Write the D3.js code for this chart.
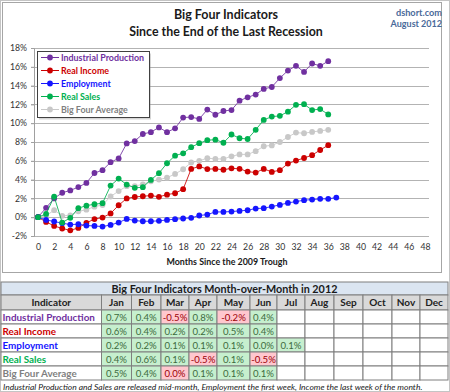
<!DOCTYPE html>
<html><head><meta charset="utf-8">
<script src="https://cdn.jsdelivr.net/npm/d3@7"></script>
<style>
html,body{margin:0;padding:0;background:#fff;}
svg{display:block;font-family:Lato,"Open Sans",sans-serif;}
</style></head>
<body>
<svg id="c" width="450" height="392"></svg>
<script>
// ---------- DATA ----------
const months = [0,1,2,3,4,5,6,7,8,9,10,11,12,13,14,15,16,17,18,19,20,21,22,23,24,25,26,27,28,29,30,31,32,33,34,35,36,37];
const xTickLabels = [0,2,4,6,8,10,12,14,16,18,20,22,24,26,28,30,32,34,36,38,40,42,44,46,48];
const yTickLabels = [-2,0,2,4,6,8,10,12,14,16,18];

const industrialProduction = [0,1.0,2.0,2.6,2.85,3.2,3.65,4.7,5.0,5.85,6.25,7.85,8.1,8.85,9.05,9.55,9.05,9.45,10.6,10.65,10.45,11.45,10.9,11.3,11.4,12.4,12.75,13.05,13.65,13.85,14.8,15.6,16.1,15.45,16.35,16.1,16.6];
const realIncome = [0,-0.5,-0.93,-1.2,-1.4,-1.14,-0.6,-0.2,-0.04,0.4,1.27,2.0,2.15,2.23,2.3,2.17,2.4,2.55,2.98,5.14,5.4,5.12,5.14,5.05,5.2,5.15,4.85,4.75,5.14,4.82,5.0,5.7,6.02,6.3,6.6,7.15,7.66];
const employment = [0,-0.29,-0.46,-0.64,-0.78,-0.75,-0.89,-0.93,-1.0,-0.82,-0.57,-0.18,-0.36,-0.43,-0.43,-0.39,-0.29,-0.21,-0.14,-0.07,0.18,0.28,0.56,0.56,0.6,0.67,0.74,0.92,0.96,1.13,1.31,1.52,1.66,1.81,1.87,1.95,1.95,2.09];
const realSales = [0,0.35,2.19,-0.57,-0.07,0.96,1.23,1.38,1.49,3.36,4.11,3.47,3.12,3.19,3.97,4.68,5.74,6.55,6.8,7.45,7.87,8.19,8.25,7.92,8.8,8.4,8.32,9.29,10.35,10.7,10.78,11.23,11.95,12.02,11.4,11.5,10.93];
const bigFourAverage = [0,0.15,0.75,0.15,0.2,0.62,0.8,1.12,1.3,2.2,2.78,3.3,3.3,3.5,3.82,4.0,4.2,4.6,5.1,5.82,6.0,6.28,6.2,6.2,6.48,6.68,6.68,7.02,7.55,7.64,8.0,8.53,9.0,8.93,9.07,9.18,9.3];

const seriesNames = ["Industrial Production","Real Income","Employment","Real Sales","Big Four Average"];

const tableMonths = ["Jan","Feb","Mar","Apr","May","Jun","Jul","Aug","Sep","Oct","Nov","Dec"];
const momIndustrialProduction = ["0.7%","0.4%","-0.5%","0.8%","-0.2%","0.4%"];
const momRealIncome = ["0.6%","0.4%","0.2%","0.2%","0.5%","0.4%"];
const momEmployment = ["0.2%","0.2%","0.1%","0.1%","0.1%","0.0%","0.1%"];
const momRealSales = ["0.4%","0.6%","0.1%","-0.5%","0.1%","-0.5%"];
const momBigFourAverage = ["0.5%","0.4%","0.0%","0.1%","0.1%","0.1%"];
// months that declined (shown red)
const downIndustrialProduction = ["Mar","May"];
const downRealIncome = [];
const downEmployment = [];
const downRealSales = ["Apr","Jun"];
const downBigFourAverage = ["Mar"];

// ---------- STYLE ----------
const colors = {"Industrial Production":"#7030a0","Real Income":"#cc0000","Employment":"#1515ff","Real Sales":"#00b050","Big Four Average":"#c8c8c8"};
const textColors = {"Industrial Production":"#7030a0","Real Income":"#cc0000","Employment":"#1515ff","Real Sales":"#00b050","Big Four Average":"#7f7f7f"};
const seriesData = {"Industrial Production":industrialProduction,"Real Income":realIncome,"Employment":employment,"Real Sales":realSales,"Big Four Average":bigFourAverage};

const svg = d3.select("#c");

// frames
svg.append("rect").attr("x",0.5).attr("y",0.5).attr("width",449).attr("height",391).attr("fill","#fff").attr("stroke","#c4c4c4");
svg.append("rect").attr("x",2.5).attr("y",2.5).attr("width",439).attr("height",270).attr("fill","none").attr("stroke","#a6a6a6");

// titles
svg.append("text").attr("x",226).attr("y",19).attr("text-anchor","middle").attr("font-weight","bold").attr("font-size",12.5).attr("fill","#1a1a1a").text("Big Four Indicators");
svg.append("text").attr("x",226).attr("y",35.5).attr("text-anchor","middle").attr("font-weight","bold").attr("font-size",12.4).attr("fill","#1a1a1a").text("Since the End of the Last Recession");
svg.append("text").attr("x",442).attr("y",16).attr("text-anchor","end").attr("font-weight","bold").attr("font-size",9.2).attr("fill","#4a6a9a").text("dshort.com");
svg.append("text").attr("x",442).attr("y",27).attr("text-anchor","end").attr("font-weight","bold").attr("font-size",9).attr("fill","#4a6a9a").text("August 2012");

// scales
const x = d3.scaleLinear().domain([-0.5,48.5]).range([34,429]);
const y = d3.scaleLinear().domain([-2,18]).range([236,48]);

// gridlines
svg.append("g").selectAll("line").data(yTickLabels).join("line")
  .attr("x1",31).attr("x2",429)
  .attr("y1",d=>Math.round(y(d))+0.5).attr("y2",d=>Math.round(y(d))+0.5)
  .attr("stroke","#b3b3b3").attr("stroke-width",1);

// y axis
const yAxis = svg.append("g").attr("transform","translate(34,0)")
  .call(d3.axisLeft(y).tickValues(yTickLabels).tickFormat(d=>d+"%").tickSize(3).tickPadding(4));
yAxis.select(".domain").attr("stroke","#a0a0a0");
yAxis.selectAll(".tick line").attr("stroke","#a0a0a0");
yAxis.selectAll("text").attr("font-size",8.7).attr("fill","#333").attr("font-family","Lato");

// x axis
const xAxis = svg.append("g").attr("transform","translate(0,236)")
  .call(d3.axisBottom(x).tickValues(xTickLabels).tickSize(0).tickPadding(8));
xAxis.select(".domain").remove();
xAxis.selectAll("text").attr("font-size",8.7).attr("fill","#333").attr("font-family","Lato");

svg.append("text").attr("x",227).attr("y",265).attr("text-anchor","middle").attr("font-weight","bold").attr("font-size",8.9).attr("fill","#1a1a1a").text("Months Since the 2009 Trough");

// series (average drawn first, behind)
const drawOrder = ["Big Four Average","Industrial Production","Real Income","Employment","Real Sales"];
const line = d3.line().x((d,i)=>x(months[i])).y(d=>y(d));
drawOrder.forEach(name=>{
  const data = seriesData[name];
  const g = svg.append("g");
  g.append("path").attr("d",line(data)).attr("fill","none").attr("stroke",colors[name]).attr("stroke-width",1).attr("opacity",0.85);
  g.selectAll("circle").data(data).join("circle")
    .attr("cx",(d,i)=>x(months[i])).attr("cy",d=>y(d)).attr("r",2.9).attr("fill",colors[name]);
});

// legend
const lg = svg.append("g");
lg.append("rect").attr("x",39).attr("y",53.5).attr("width",112).attr("height",66).attr("fill","#888").attr("opacity",0.35);
lg.append("rect").attr("x",37.5).attr("y",51.5).attr("width",112).attr("height",66).attr("fill","#fff").attr("stroke","#404040");
seriesNames.forEach((name,i)=>{
  const yy = 57.5 + i*13;
  lg.append("line").attr("x1",41).attr("x2",59).attr("y1",yy).attr("y2",yy).attr("stroke",colors[name]).attr("stroke-width",1);
  lg.append("circle").attr("cx",50).attr("cy",yy).attr("r",2.9).attr("fill",colors[name]);
  lg.append("text").attr("x",61).attr("y",yy+3).attr("font-weight","bold").attr("font-size",8.9).attr("fill",textColors[name]).text(name);
});

// ---------- TABLE ----------
const colEdges = [1,101.5,131.5,161,189,217,250,277,305,334,363,392,420,448];
const tTop = 282, titleH = 13, headH = 15, rowH = 14;
const tg = svg.append("g");
// title row
tg.append("rect").attr("x",colEdges[0]).attr("y",tTop).attr("width",colEdges[13]-colEdges[0]).attr("height",titleH).attr("fill","#dbe5f1").attr("stroke","#7f7f7f");
tg.append("text").attr("x",(colEdges[0]+colEdges[13])/2).attr("y",tTop+10.5).attr("text-anchor","middle").attr("font-weight","bold").attr("font-size",10.8).attr("fill","#1a1a1a").text("Big Four Indicators Month-over-Month in 2012");
// header row
const hy = tTop+titleH;
const headers = ["Indicator"].concat(tableMonths);
headers.forEach((h,i)=>{
  tg.append("rect").attr("x",colEdges[i]).attr("y",hy).attr("width",colEdges[i+1]-colEdges[i]).attr("height",headH).attr("fill","#d9d9d9").attr("stroke","#7f7f7f");
  tg.append("text").attr("x",(colEdges[i]+colEdges[i+1])/2).attr("y",hy+11).attr("text-anchor","middle").attr("font-weight","bold").attr("font-size",10).attr("fill","#222").text(h);
});
const rowValues = [momIndustrialProduction,momRealIncome,momEmployment,momRealSales,momBigFourAverage];
const rowDown = [downIndustrialProduction,downRealIncome,downEmployment,downRealSales,downBigFourAverage];
seriesNames.forEach((name,r)=>{
  const ry = hy+headH+r*rowH;
  tg.append("rect").attr("x",colEdges[0]).attr("y",ry).attr("width",colEdges[1]-colEdges[0]).attr("height",rowH).attr("fill","#fff").attr("stroke","#7f7f7f");
  tg.append("text").attr("x",colEdges[0]+1.5).attr("y",ry+10.8).attr("font-weight","bold").attr("font-size",9.9).attr("fill",textColors[name]).text(name);
  tableMonths.forEach((m,c)=>{
    const v = rowValues[r][c];
    const down = rowDown[r].indexOf(m)>=0;
    const fill = v===undefined ? "#fff" : (down ? "#ffc7ce" : "#c6efce");
    tg.append("rect").attr("x",colEdges[c+1]).attr("y",ry).attr("width",colEdges[c+2]-colEdges[c+1]).attr("height",rowH).attr("fill",fill).attr("stroke","#7f7f7f");
    if(v!==undefined){
      tg.append("text").attr("x",(colEdges[c+1]+colEdges[c+2])/2).attr("y",ry+10.8).attr("text-anchor","middle").attr("font-size",9.6).attr("fill",down?"#9c0006":"#3d6b3d").text(v);
    }
  });
});
svg.append("text").attr("x",3).attr("y",390).attr("font-style","italic").attr("font-size",8.5).attr("fill","#1a1a1a")
  .text("Industrial Production and Sales are released mid-month, Employment the first week, Income the last week of the month.");
</script>
</body></html>
